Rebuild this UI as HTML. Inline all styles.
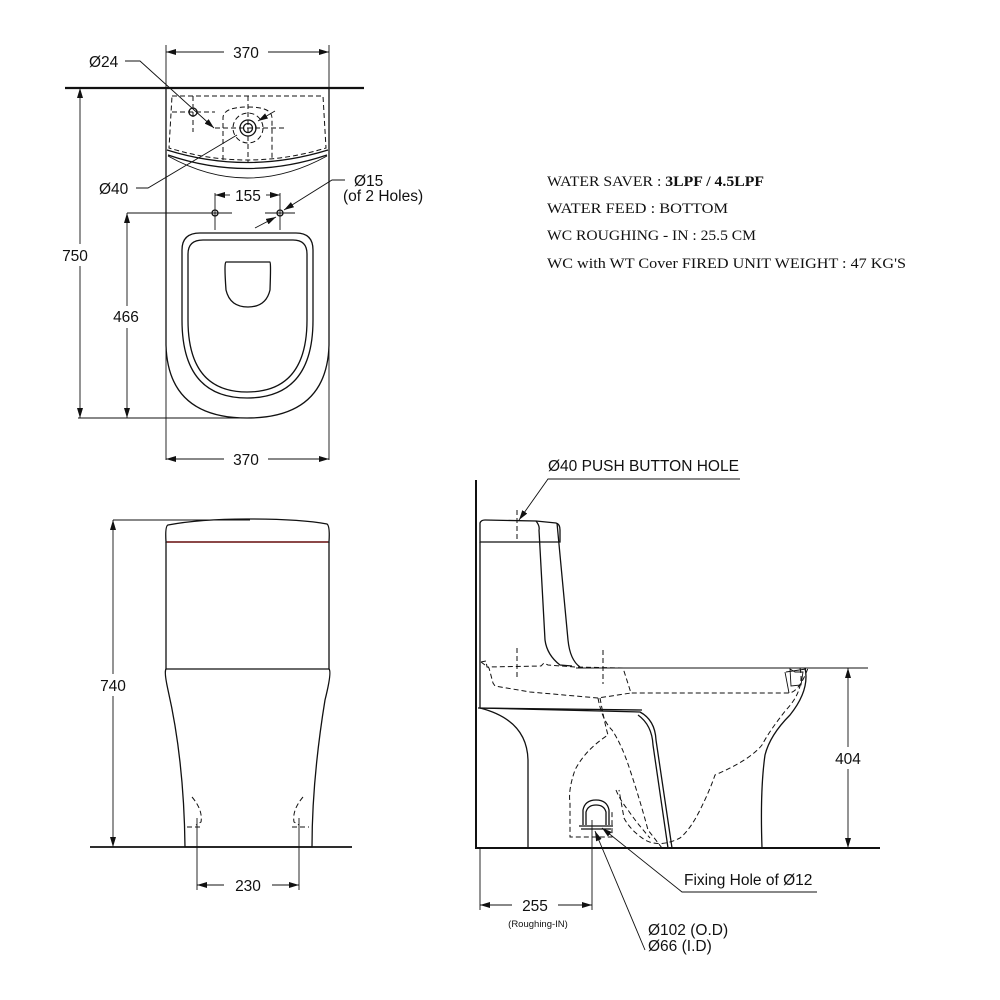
<!DOCTYPE html>
<html><head><meta charset="utf-8"><style>
html,body{margin:0;padding:0;background:#fff}
svg{display:block}
text{font-family:"Liberation Sans",sans-serif;fill:#111}
.s{fill:none;stroke:#111;stroke-width:1.3}
.t{fill:none;stroke:#111;stroke-width:0.9}
.d{fill:none;stroke:#111;stroke-width:1;stroke-dasharray:5 3}
.serif{font-family:"Liberation Serif",serif;font-size:15px}
</style></head><body>
<svg width="1000" height="1000" viewBox="0 0 1000 1000" xmlns="http://www.w3.org/2000/svg">
<defs>
<marker id="a" viewBox="0 0 10 6" refX="10" refY="3" markerWidth="10" markerHeight="6" orient="auto-start-reverse" markerUnits="userSpaceOnUse"><path d="M0,0 L10,3 L0,6 z" fill="#111"/></marker>
</defs>

<!-- ================= TOP VIEW ================= -->
<line x1="65" y1="88" x2="364" y2="88" stroke="#111" stroke-width="2.2"/>
<line class="t" x1="166" y1="45" x2="166" y2="88"/>
<line class="t" x1="329" y1="45" x2="329" y2="88"/>
<line class="t" x1="166" y1="52" x2="224" y2="52" marker-start="url(#a)"/>
<line class="t" x1="268" y1="52" x2="329" y2="52" marker-end="url(#a)"/>
<text x="246" y="58" font-size="15.5" text-anchor="middle">370</text>
<path class="s" d="M166,88 L166,345 Q168,418 247,418 Q327,418 329,345 L329,88"/>
<path class="t" d="M166,88 L166,460 M329,88 L329,460"/>
<path class="d" d="M172,96 L323,96 L326,148 Q247,172 169,148 Z"/>
<path class="s" d="M167,150 Q247,175 328,150"/>
<path class="s" d="M168,155 Q247,182 327,155"/>
<path class="t" d="M168,156 Q247,200 327,156"/>
<circle class="s" cx="193" cy="112" r="4"/>
<path class="d" d="M193,96 L193,132 M172,112 L215,112"/>
<circle class="s" cx="248" cy="128" r="4.5"/>
<circle class="s" cx="248" cy="128" r="8"/>
<circle class="d" cx="248" cy="128" r="15"/>
<path class="d" d="M223,160 L223,118 Q223,107 248,107 Q272,107 272,118 L272,160"/>
<path class="d" d="M248,96 L248,163 M215,128 L287,128"/>
<text x="89" y="67" font-size="15.5">Ø24</text>
<polyline class="t" points="125,61 140,61 214,128" marker-end="url(#a)"/>
<text x="99" y="194" font-size="15.5">Ø40</text>
<polyline class="t" points="136,188 148,188 237,135"/>
<line class="t" x1="275" y1="111" x2="258" y2="121" marker-end="url(#a)"/>
<line class="t" x1="215" y1="193" x2="215" y2="230"/>
<line class="t" x1="280" y1="193" x2="280" y2="230"/>
<line class="t" x1="215" y1="195" x2="230" y2="195" marker-start="url(#a)"/>
<line class="t" x1="266" y1="195" x2="280" y2="195" marker-end="url(#a)"/>
<text x="248" y="201" font-size="15.5" text-anchor="middle">155</text>
<circle class="s" cx="215" cy="213" r="3"/>
<circle class="s" cx="280" cy="213" r="3"/>
<line class="t" x1="127" y1="213" x2="232" y2="213"/>
<line class="t" x1="265" y1="213" x2="295" y2="213"/>
<text x="354" y="186" font-size="15.5">Ø15</text>
<text x="343" y="201" font-size="15.5">(of 2 Holes)</text>
<polyline class="t" points="345,180 332,180 284,210" marker-end="url(#a)"/>
<line class="t" x1="255" y1="228" x2="276" y2="217" marker-end="url(#a)"/>
<path class="s" d="M200,233 L296,233 Q313,233 313,250 L313,320 Q313,398 247,398 Q182,398 182,320 L182,250 Q182,233 200,233 Z"/>
<path class="s" d="M203,240 L293,240 Q307,240 307,254 L307,320 Q307,392 247,392 Q188,392 188,320 L188,254 Q188,240 203,240 Z"/>
<path class="s" d="M226,262 L270,262 Q271,262 270,290 Q266,307 248,307 Q230,307 226,290 Q224,262 226,262 Z"/>
<line class="t" x1="80" y1="88" x2="80" y2="418" marker-start="url(#a)" marker-end="url(#a)"/>
<line class="t" x1="78" y1="418" x2="247" y2="418"/>
<rect x="58" y="244" width="42" height="22" fill="#fff"/>
<text x="75" y="261" font-size="15.5" text-anchor="middle">750</text>
<line class="t" x1="127" y1="213" x2="127" y2="418" marker-start="url(#a)" marker-end="url(#a)"/>
<rect x="106" y="306" width="42" height="22" fill="#fff"/>
<text x="126" y="322" font-size="15.5" text-anchor="middle">466</text>
<line class="t" x1="166" y1="459" x2="224" y2="459" marker-start="url(#a)"/>
<line class="t" x1="268" y1="459" x2="329" y2="459" marker-end="url(#a)"/>
<text x="246" y="465" font-size="15.5" text-anchor="middle">370</text>

<!-- ================= NOTES ================= -->
<text class="serif" x="547" y="186" textLength="217" lengthAdjust="spacingAndGlyphs">WATER SAVER : <tspan font-weight="bold">3LPF / 4.5LPF</tspan></text>
<text class="serif" x="547" y="213" textLength="181" lengthAdjust="spacingAndGlyphs">WATER FEED : BOTTOM</text>
<text class="serif" x="547" y="240" textLength="209" lengthAdjust="spacingAndGlyphs">WC ROUGHING - IN : 25.5 CM</text>
<text class="serif" x="547" y="268" textLength="359" lengthAdjust="spacingAndGlyphs">WC with WT Cover FIRED UNIT WEIGHT :  47 KG'S</text>

<!-- ================= FRONT VIEW ================= -->
<line x1="90" y1="847" x2="352" y2="847" stroke="#111" stroke-width="1.8"/>
<path class="s" d="M168,525 Q200,519 247,519 Q300,519 327,524 Q330,526 329,542 L166,542 Q165,526 168,525 Z"/>
<line x1="167" y1="542" x2="328" y2="542" stroke="#7a2020" stroke-width="1.4"/>
<path class="s" d="M166,542 L166,669 L329,669 L329,542"/>
<path class="s" d="M166,669 Q164,672 168,690 Q184,760 185,847 L312,847 Q312,780 325,700 Q332,672 329,669"/>
<path class="d" d="M192,797 Q203,810 201,822 L196,825 M187,827 L203,827"/>
<path class="d" d="M303,797 Q292,810 294,822 L299,825 M292,827 L309,827"/>
<line class="t" x1="197" y1="818" x2="197" y2="890"/>
<line class="t" x1="299" y1="818" x2="299" y2="890"/>
<line class="t" x1="197" y1="885" x2="224" y2="885" marker-start="url(#a)"/>
<line class="t" x1="272" y1="885" x2="299" y2="885" marker-end="url(#a)"/>
<text x="248" y="891" font-size="15.5" text-anchor="middle">230</text>
<line class="t" x1="113" y1="520" x2="250" y2="520"/>
<line class="t" x1="113" y1="520" x2="113" y2="847" marker-start="url(#a)" marker-end="url(#a)"/>
<rect x="93" y="674" width="40" height="22" fill="#fff"/>
<text x="113" y="691" font-size="15.5" text-anchor="middle">740</text>

<!-- ================= SIDE VIEW ================= -->
<line x1="476" y1="480" x2="476" y2="849" stroke="#111" stroke-width="2"/>
<line x1="476" y1="848" x2="880" y2="848" stroke="#111" stroke-width="2"/>
<text x="548" y="471" font-size="15.5">Ø40 PUSH BUTTON HOLE</text>
<polyline class="t" points="740,479 548,479 519,520" marker-end="url(#a)"/>
<path class="s" d="M480,542 L480,523 Q481,520 485,520 L536,521 L556,523 Q560,524 560,530 L560,542 Z"/>
<path class="s" d="M536,521 Q540,526 539,530 L545,640 Q547,655 560,665 L572,666"/>
<path class="s" d="M557,523 L568,640 Q570,660 580,667"/>
<line class="d" x1="517" y1="510" x2="517" y2="540"/>
<line class="t" x1="576" y1="668" x2="868" y2="668"/>
<path class="d" d="M481,662 L486,661 L487,667 L541,666 L544,663 L548,665 L575,667 L623,668 L631,693 L790,693 Q800,690 808,668"/>
<path class="d" d="M481,662 L489,668 L493,683 L495,686 L530,692 L598,698 L631,693"/>
<path class="d" d="M517,648 L517,680 M603,650 L603,684"/>
<path class="s" d="M805,668 Q810,690 790,715 Q770,735 765,755 Q760,790 762,848"/>
<path class="d" d="M800,668 Q805,690 786,710 Q770,730 762,745 Q750,760 715,775 Q710,790 700,810 Q690,830 680,838 Q660,848 645,840 Q630,830 624,818 L619,790"/>
<path class="t" d="M790,669 L795,672 L803,672 L801,685 L791,686 Z"/>
<path class="t" d="M785,672 L789,693 M786,672 L806,669"/>
<path class="s" d="M480,542 L480,708 L640,712 Q655,720 656,740 L672,848"/>
<path class="s" d="M478,708 L642,710"/>
<path class="s" d="M480,708 Q527,720 528,760 L528,848"/>
<path class="s" d="M638,715 Q652,725 653,745 L668,848"/>
<path class="d" d="M598,698 Q602,720 612,730 Q622,745 630,770 Q640,800 648,830 L662,848"/>
<path class="d" d="M600,698 Q605,725 608,735 Q585,750 575,770 Q568,790 570,803 L570,837 L612,837 L612,810"/>
<path class="d" d="M616,790 Q620,800 628,810 Q636,822 650,838"/>
<path class="s" d="M583,825 L583,810 Q585,800 596,800 Q607,800 609,810 L609,825"/>
<path class="s" d="M586,825 L586,812 Q588,805 596,805 Q604,805 606,812 L606,825"/>
<line class="s" x1="579" y1="826" x2="613" y2="826"/>
<line class="s" x1="581" y1="829" x2="611" y2="829"/>
<line class="t" x1="592" y1="820" x2="592" y2="910"/>
<line class="t" x1="848" y1="668" x2="848" y2="848" marker-start="url(#a)" marker-end="url(#a)"/>
<rect x="828" y="747" width="40" height="22" fill="#fff"/>
<text x="848" y="764" font-size="15.5" text-anchor="middle">404</text>
<line class="t" x1="480" y1="848" x2="480" y2="910"/>
<line class="t" x1="480" y1="905" x2="512" y2="905" marker-start="url(#a)"/>
<line class="t" x1="558" y1="905" x2="592" y2="905" marker-end="url(#a)"/>
<text x="535" y="911" font-size="15.5" text-anchor="middle">255</text>
<text x="538" y="927" font-size="9.5" text-anchor="middle">(Roughing-IN)</text>
<text x="684" y="885" font-size="15.5">Fixing Hole of Ø12</text>
<polyline class="t" points="817,892 682,892 602,828" marker-end="url(#a)"/>
<text x="648" y="935" font-size="15.5">Ø102 (O.D)</text>
<text x="648" y="951" font-size="15.5">Ø66 (I.D)</text>
<line class="t" x1="645" y1="950" x2="595" y2="831" marker-end="url(#a)"/>
</svg>
</body></html>
